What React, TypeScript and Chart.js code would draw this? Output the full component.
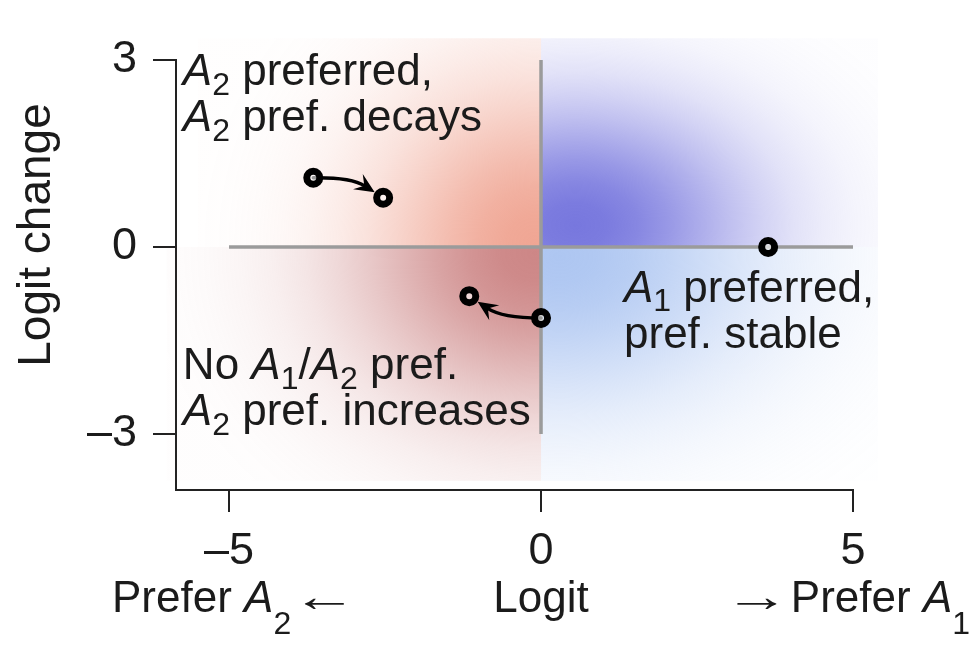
import React, { useEffect, useRef } from "react";
import { Chart, registerables } from "chart.js";

Chart.register(...registerables);

// ---------- data ----------
const xTicks = [-5, 0, 5];
const yTicks = [-3, 0, 3];
const xRange = [-5.85, 5];
const yRange = [-3.9, 3];

const trajectoryStart = [
  { x: -3.65, y: 1.11 },
  { x: 0, y: -1.14 },
];
const trajectoryEnd = [
  { x: -2.53, y: 0.79 },
  { x: -1.15, y: -0.79 },
];
const stablePoints = [{ x: 3.64, y: 0 }];

const zeroLineH = [
  { x: -5, y: 0 },
  { x: 5, y: 0 },
];
const zeroLineV = [
  { x: 0, y: -3 },
  { x: 0, y: 3 },
];

type Part = [string, "n" | "i" | "s" | "a"];

const xAxisLabels: Part[][] = [
  [["Prefer ", "n"], ["A", "i"], ["2", "s"], [" ", "n"], ["\u2190", "a"]],
  [["Logit", "n"]],
  [["\u2192", "a"], [" Prefer ", "n"], ["A", "i"], ["1", "s"]],
];
const yAxisTitle = "Logit change";

const noteTopLeft: Part[][] = [
  [["A", "i"], ["2", "s"], [" preferred,", "n"]],
  [["A", "i"], ["2", "s"], [" pref. decays", "n"]],
];
const noteBottomRight: Part[][] = [
  [["A", "i"], ["1", "s"], [" preferred,", "n"]],
  [["pref. stable", "n"]],
];
const noteBottomLeft: Part[][] = [
  [["No ", "n"], ["A", "i"], ["1", "s"], ["/", "n"], ["A", "i"], ["2", "s"], [" pref.", "n"]],
  [["A", "i"], ["2", "s"], [" pref. increases", "n"]],
];

// ---------- styling helpers ----------
const FONT = '"Liberation Sans", Arial, Helvetica, sans-serif';
const TEXT = "#1b1b1b";
const FS = 44;

function fontFor(style: string, size: number) {
  if (style === "i") return `italic ${size}px ${FONT}`;
  if (style === "s") return `${Math.round(size * 0.72)}px ${FONT}`;
  return `${size}px ${FONT}`;
}

// arrows glyphs are stretched horizontally to the long, thin look of the original
function arrowScale(ctx: CanvasRenderingContext2D, t: string, size: number) {
  ctx.font = fontFor("a", size);
  const m = ctx.measureText(t);
  const vis = (m.actualBoundingBoxRight || 0) + (m.actualBoundingBoxLeft || 0) || m.width;
  return { k: (size * 0.95) / vis, w: m.width, left: m.actualBoundingBoxLeft || 0 };
}

function partWidth(ctx: CanvasRenderingContext2D, t: string, s: string, size: number) {
  if (s === "a") {
    const a = arrowScale(ctx, t, size);
    return size * 0.97;
  }
  ctx.font = fontFor(s, size);
  return ctx.measureText(t).width;
}

function drawRich(
  ctx: CanvasRenderingContext2D,
  parts: Part[],
  x: number,
  y: number,
  size: number,
  align: "left" | "center" | "right" = "left",
  subDrop = 0.22
) {
  let w = 0;
  for (const [t, s] of parts) w += partWidth(ctx, t, s, size);
  let cx = align === "left" ? x : align === "center" ? x - w / 2 : x - w;
  ctx.textAlign = "left";
  ctx.textBaseline = "alphabetic";
  ctx.fillStyle = TEXT;
  for (const [t, s] of parts) {
    if (s === "a") {
      const a = arrowScale(ctx, t, size);
      ctx.save();
      ctx.translate(cx + a.left * a.k, y - size * 0.02);
      ctx.scale(a.k, 1);
      ctx.fillText(t, 0, 0);
      ctx.restore();
      cx += size * 0.97;
      continue;
    }
    ctx.font = fontFor(s, size);
    const yy = s === "s" ? y + size * subDrop : y;
    ctx.fillText(t, cx, yy);
    cx += ctx.measureText(t).width;
  }
}

function drawArrow(ctx: CanvasRenderingContext2D, p0: { x: number; y: number }, p1: { x: number; y: number }) {
  const dx = p1.x - p0.x;
  const dy = p1.y - p0.y;
  const c = { x: (p0.x + p1.x) / 2 + dy * 0.15, y: (p0.y + p1.y) / 2 - dx * 0.15 };
  let ex = p1.x - c.x;
  let ey = p1.y - c.y;
  const el = Math.hypot(ex, ey);
  ex /= el;
  ey /= el;
  const tip = { x: p1.x - ex * 10, y: p1.y - ey * 10 };
  const L = 20;
  const W = 9;
  const base = { x: tip.x - ex * L * 0.6, y: tip.y - ey * L * 0.6 };
  ctx.save();
  ctx.strokeStyle = "#000";
  ctx.fillStyle = "#000";
  ctx.lineWidth = 3.5;
  ctx.lineCap = "round";
  ctx.beginPath();
  ctx.moveTo(p0.x, p0.y);
  ctx.quadraticCurveTo(c.x, c.y, base.x, base.y);
  ctx.stroke();
  const nx = -ey;
  const ny = ex;
  ctx.beginPath();
  ctx.moveTo(tip.x, tip.y);
  ctx.lineTo(tip.x - ex * L + nx * W, tip.y - ey * L + ny * W);
  ctx.lineTo(tip.x - ex * L * 0.62, tip.y - ey * L * 0.62);
  ctx.lineTo(tip.x - ex * L - nx * W, tip.y - ey * L - ny * W);
  ctx.closePath();
  ctx.fill();
  ctx.restore();
}

const shadePlugin = {
  id: "quadrantShade",
  beforeDatasetsDraw(chart: any) {
    const { ctx } = chart;
    const xs = chart.scales.x;
    const ys = chart.scales.y;
    const px = (v: number) => xs.getPixelForValue(v);
    const py = (v: number) => ys.getPixelForValue(v);
    const ux = px(1) - px(0);
    const uy = py(0) - py(1);
    const blobs = [
      { x0: -6, x1: 0, y0: 0, y1: 3.35, cx: -0.1, cy: 0.05, sx: 1.8, sy: 1.8, rgb: [238, 156, 136], a: 0.9 },
      { x0: -6, x1: 0, y0: -3.75, y1: 0, cx: -0.1, cy: -0.1, sx: 2.1, sy: 1.8, rgb: [198, 118, 118], a: 0.88 },
      { x0: 0, x1: 5.4, y0: 0, y1: 3.35, cx: 0.55, cy: 0.35, sx: 2.0, sy: 1.4, rgb: [112, 112, 220], a: 0.95 },
      { x0: 0, x1: 5.4, y0: -3.75, y1: 0, cx: 0.3, cy: -0.15, sx: 2.3, sy: 1.7, rgb: [165, 192, 240], a: 0.9 },
    ];
    for (const b of blobs) {
      ctx.save();
      ctx.beginPath();
      ctx.rect(px(b.x0), py(b.y1), px(b.x1) - px(b.x0), py(b.y0) - py(b.y1));
      ctx.clip();
      ctx.translate(px(b.cx), py(b.cy));
      ctx.scale(b.sx * ux, b.sy * uy);
      const g = ctx.createRadialGradient(0, 0, 0, 0, 0, 3);
      for (let k = 0; k <= 12; k++) {
        const r = (k / 12) * 3;
        const al = b.a * Math.exp((-r * r) / 2);
        g.addColorStop(k / 12, `rgba(${b.rgb[0]},${b.rgb[1]},${b.rgb[2]},${al.toFixed(3)})`);
      }
      ctx.fillStyle = g;
      ctx.fillRect(-3, -3, 6, 6);
      ctx.restore();
    }
  },
};

const arrowPlugin = {
  id: "trajectoryArrows",
  beforeDatasetDraw(chart: any, args: any) {
    if (args.index !== 0) return;
    const xs = chart.scales.x;
    const ys = chart.scales.y;
    trajectoryStart.forEach((s, i) => {
      const e = trajectoryEnd[i];
      drawArrow(
        chart.ctx,
        { x: xs.getPixelForValue(s.x), y: ys.getPixelForValue(s.y) },
        { x: xs.getPixelForValue(e.x), y: ys.getPixelForValue(e.y) }
      );
    });
  },
};

const textPlugin = {
  id: "richText",
  afterDraw(chart: any) {
    const { ctx, chartArea } = chart;
    const xs = chart.scales.x;
    const ys = chart.scales.y;
    const px = (v: number) => xs.getPixelForValue(v);
    const py = (v: number) => ys.getPixelForValue(v);
    ctx.save();
    const lh = 46;
    const notes: [Part[][], number, number][] = [
      [noteTopLeft, -5.74, 2.6],
      [noteBottomRight, 1.33, -0.88],
      [noteBottomLeft, -5.74, -2.12],
    ];
    for (const [lines, nx, ny] of notes) {
      lines.forEach((ln, i) => drawRich(ctx, ln, px(nx), py(ny) + i * lh, FS));
    }
    // x axis labels, centred under the ticks
    xAxisLabels.forEach((ln, i) => {
      drawRich(ctx, ln, px(xTicks[i]), chartArea.bottom + 122, FS, "center", 0.5);
    });
    // y axis title
    ctx.translate(50, 235);
    ctx.rotate(-Math.PI / 2);
    ctx.font = `46px ${FONT}`;
    ctx.fillStyle = TEXT;
    ctx.textAlign = "center";
    ctx.textBaseline = "alphabetic";
    ctx.fillText(yAxisTitle, 0, 0);
    ctx.restore();
  },
};

const fmt = (v: number) => (v < 0 ? "\u2013" + Math.abs(v) : String(v));

export default function App() {
  const ref = useRef<HTMLCanvasElement | null>(null);
  useEffect(() => {
    if (!ref.current) return;
    const axisColor = "#222";
    const chart = new Chart(ref.current, {
      type: "scatter",
      data: {
        datasets: [
          {
            data: [...trajectoryStart, ...trajectoryEnd, ...stablePoints],
            pointRadius: 6.5,
            pointHoverRadius: 6.5,
            borderWidth: 7,
            borderColor: "#000",
            backgroundColor: "rgba(255,255,255,0.6)",
          },
          {
            data: zeroLineH,
            showLine: true,
            borderColor: "#9b9b9b",
            borderWidth: 3.5,
            pointRadius: 0,
          },
          {
            data: zeroLineV,
            showLine: true,
            borderColor: "#9b9b9b",
            borderWidth: 3.5,
            pointRadius: 0,
          },
        ],
      },
      options: {
        animation: false,
        responsive: true,
        maintainAspectRatio: false,
        devicePixelRatio: 1,
        layout: { padding: { left: 0, top: 60, right: 127, bottom: 0 } },
        plugins: { legend: { display: false }, tooltip: { enabled: false } },
        events: [],
        scales: {
          x: {
            type: "linear",
            min: xRange[0],
            max: xRange[1],
            afterBuildTicks: (s: any) => {
              s.ticks = xTicks.map((v) => ({ value: v }));
            },
            afterFit: (s: any) => {
              s.height = 159;
            },
            border: { display: true, color: axisColor, width: 2 },
            grid: { drawOnChartArea: false, drawTicks: true, tickLength: 22, color: axisColor, lineWidth: 2 },
            ticks: {
              color: TEXT,
              font: { family: FONT, size: 45 },
              padding: 13,
              maxRotation: 0,
              autoSkip: false,
              callback: (v: any) => fmt(Number(v)),
            },
          },
          y: {
            type: "linear",
            min: yRange[0],
            max: yRange[1],
            afterBuildTicks: (s: any) => {
              s.ticks = yTicks.map((v) => ({ value: v }));
            },
            afterFit: (s: any) => {
              s.width = 176;
            },
            border: { display: true, color: axisColor, width: 2 },
            grid: { drawOnChartArea: false, drawTicks: true, tickLength: 23, color: axisColor, lineWidth: 2 },
            ticks: {
              color: TEXT,
              font: { family: FONT, size: 45 },
              padding: 16,
              autoSkip: false,
              callback: (v: any) => fmt(Number(v)),
            },
          },
        },
      },
      plugins: [shadePlugin, arrowPlugin, textPlugin],
    });
    return () => chart.destroy();
  }, []);
  return (
    <div style={{ position: "absolute", left: 0, top: 0, width: 980, height: 649, background: "#fff" }}>
      <canvas ref={ref} />
    </div>
  );
}
